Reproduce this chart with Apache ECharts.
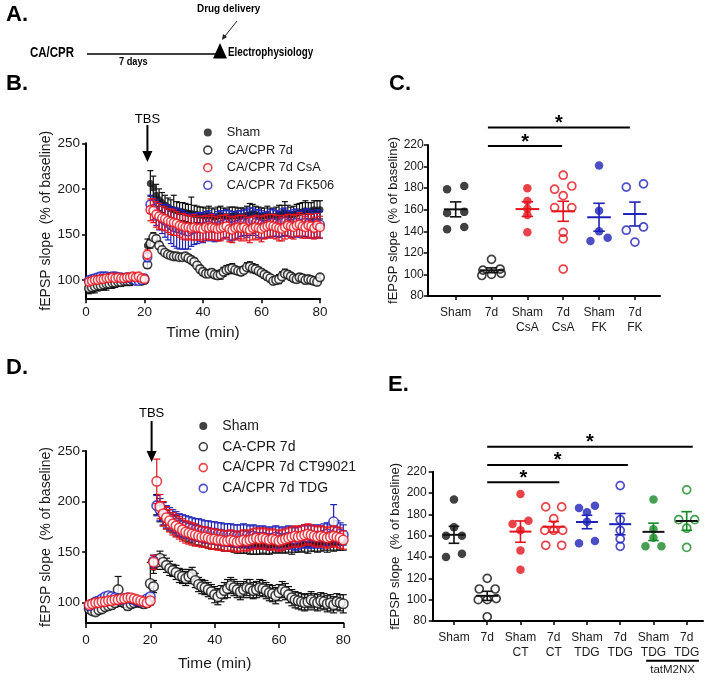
<!DOCTYPE html>
<html><head><meta charset="utf-8">
<script src="https://cdn.jsdelivr.net/npm/echarts@6/dist/echarts.min.js"></script>
<style>html,body{margin:0;padding:0;background:#fff}#c{width:719px;height:680px}</style>
</head><body><div id="c"></div>
<script>
// ---------- time course data (panels B and D) ----------
const minutes = [1,2,3,4,5,6,7,8,9,10,11,12,13,14,15,16,17,18,19,20,
21,22,23,24,25,26,27,28,29,30,31,32,33,34,35,36,37,38,39,40,
41,42,43,44,45,46,47,48,49,50,51,52,53,54,55,56,57,58,59,60,
61,62,63,64,65,66,67,68,69,70,71,72,73,74,75,76,77,78,79,80];
const timeTicks = [0,20,40,60,80];
const slopeTicks = [100,150,200,250];

const bSham = [89,90,91,92,93,93,94,95,95,96,97,97,98,98,99,99,100,100,100,101,
138,206,201,193,188,185,182,180,178,177,176,175,175,174,173,173,172,172,171,171,
170,171,170,169,170,171,170,169,170,170,171,170,169,170,171,172,173,172,171,170,
170,171,170,169,170,172,173,174,172,171,172,173,174,175,176,175,176,177,176,177];
const bShamSem = [4,4,5,4,4,4,5,4,4,4,4,4,4,4,5,4,4,4,4,4,
7,14,13,12,12,11,11,10,10,16,10,10,10,10,10,18,10,9,9,9,
9,10,9,9,10,10,9,9,10,10,9,9,10,9,10,12,10,9,9,9,
9,10,9,9,10,10,9,12,10,9,9,10,10,10,11,10,9,10,11,10];
const bCpr = [91,92,93,94,94,95,96,96,97,97,98,98,99,99,99,100,100,100,99,100,
117,140,147,145,138,133,130,128,127,126,126,125,125,126,124,122,120,116,112,109,
107,107,108,106,105,106,109,111,112,113,111,110,109,111,114,115,113,112,110,108,
106,104,102,99,100,101,104,107,106,104,102,101,103,102,100,101,100,99,98,103];
const bCprSem = [3,3,3,3,3,3,3,3,3,3,3,3,3,3,3,3,3,3,3,3,
4,5,5,4,4,4,3,3,3,3,3,3,3,3,4,4,4,4,4,4,
4,4,4,4,4,5,5,5,5,5,4,4,4,4,5,5,5,5,4,4,
4,4,4,4,4,5,5,5,4,4,4,4,4,4,4,4,4,4,4,3];
const bCsa = [98,99,100,100,101,101,102,102,103,102,103,102,102,103,103,104,103,104,102,101,
128,177,176,172,170,168,167,165,164,163,162,160,159,158,158,157,158,157,157,156,
158,157,158,157,156,157,158,159,156,155,157,158,157,158,156,155,157,158,157,156,
158,159,160,159,158,157,156,158,160,159,158,160,161,159,158,160,159,157,160,158];
const bCsaSem = [3,3,3,3,3,3,3,3,3,3,3,3,3,3,3,3,3,3,3,3,
5,12,13,14,14,13,13,13,14,14,13,13,14,14,13,13,14,13,13,14,
13,13,14,13,13,14,13,13,14,14,13,13,14,13,13,14,13,13,13,14,
13,13,12,13,13,14,13,13,12,13,13,12,13,13,12,13,13,12,13,12];
const bFk = [100,101,102,103,104,104,104,103,104,104,103,103,102,103,102,101,99,99,100,102,
125,183,178,174,170,167,165,163,160,158,157,156,155,154,153,155,156,157,158,157,
159,160,158,157,159,160,161,162,160,159,160,161,162,163,162,164,165,163,162,161,
160,161,162,163,162,161,163,164,162,161,162,163,161,162,163,162,161,160,162,161];
const bFkSem = [3,3,3,3,3,3,3,3,3,3,3,3,3,3,3,3,3,3,3,3,
5,10,12,14,15,16,18,19,20,21,22,22,21,20,19,18,17,17,16,16,
16,16,15,15,16,16,15,15,16,16,15,15,14,14,15,15,14,14,15,15,
14,14,15,15,14,14,15,15,14,14,15,15,14,14,15,16,15,14,15,15];

const dSham = [95,94,93,95,96,97,98,99,99,100,100,101,100,99,100,101,100,99,100,101,
135,197,190,185,182,180,178,176,174,172,170,169,168,167,166,165,164,163,162,162,
161,160,160,159,159,158,158,157,157,157,156,157,156,156,157,156,157,157,158,157,
158,157,158,157,158,158,159,158,158,159,159,158,159,160,159,160,159,160,160,160];
const dShamSem = [3,3,3,3,3,3,3,3,3,3,3,3,3,3,3,3,3,3,3,3,
6,10,10,9,9,9,9,10,9,9,9,9,9,10,9,9,9,9,9,9,
8,8,9,8,8,8,9,8,8,8,8,9,8,8,8,8,9,8,8,8,
8,8,8,9,8,8,8,8,9,8,8,8,8,8,9,8,8,8,8,8];
const dCpr = [94,92,91,93,94,96,97,98,100,113,101,100,97,99,100,101,100,99,100,119,
116,140,144,140,137,134,132,130,127,126,124,126,128,122,118,116,115,113,111,108,
106,109,112,114,117,115,113,111,113,115,114,112,113,115,114,112,110,109,107,110,
113,111,108,105,103,102,101,100,101,103,101,100,102,101,99,100,98,101,100,99];
const dCprSem = [3,3,3,3,3,3,3,4,4,13,4,4,4,4,4,4,4,4,4,21,
6,7,7,7,7,7,6,7,7,7,7,7,7,7,7,7,7,7,7,8,
8,8,8,9,8,8,8,8,8,8,9,8,8,8,8,8,8,8,8,8,
8,8,8,8,8,8,8,8,8,8,8,8,8,8,8,8,8,8,8,9];
const dCt = [98,99,100,100,101,101,102,102,103,103,104,104,105,105,104,103,102,101,100,102,
140,220,195,188,184,181,178,176,174,172,170,169,168,167,166,165,165,164,163,163,
162,162,161,161,162,161,160,161,162,161,162,163,164,163,164,163,162,163,162,161,
162,163,164,165,166,165,166,167,168,167,166,165,166,165,164,165,166,165,164,162];
const dCtSem = [3,3,3,3,3,3,3,3,3,3,3,3,3,3,3,3,3,3,3,3,
7,22,12,12,11,11,11,11,11,11,11,11,11,11,10,10,10,10,10,10,
10,10,10,10,10,10,10,10,10,10,10,10,10,10,10,10,10,10,10,10,
10,10,10,10,10,10,10,10,10,10,10,10,10,10,10,10,10,10,10,9];
const dTdg = [97,99,101,102,104,106,107,106,105,104,103,104,105,104,103,102,101,102,104,106,
141,196,192,188,185,183,181,179,177,176,175,174,173,172,172,171,170,170,169,169,
168,168,167,167,167,166,166,166,167,166,165,166,165,164,165,164,163,164,165,164,
163,164,165,164,163,164,165,166,165,166,165,166,165,167,168,166,180,170,168,167];
const dTdgSem = [3,3,3,3,3,3,3,3,3,3,3,3,3,3,3,3,3,3,3,3,
6,10,11,11,11,11,11,11,11,11,11,11,11,11,11,11,11,11,11,11,
11,11,11,11,11,11,11,11,11,11,11,11,11,11,11,11,11,11,11,11,
11,11,11,11,11,11,11,11,11,11,11,11,11,11,11,11,17,11,11,10];

const bNames = ['Sham','CA/CPR 7d','CA/CPR 7d CsA','CA/CPR 7d FK506'];
const dNames = ['Sham','CA-CPR 7d','CA/CPR 7d CT99021','CA/CPR 7d TDG'];

// ---------- scatter data (panels C and E) ----------
const cGroups = ['Sham','7d','Sham\nCsA','7d\nCsA','Sham\nFK','7d\nFK'];
const cSham = [179,182,157,158,142,144];
const c7d = [114,105,104,101,100,99];
const cShamCsA = [180,168,161,155,139];
const c7dCsA = [192,179,182,173,162,162,139,133,105];
const cShamFK = [201,159,140,131,134];
const c7dFK = [181,184,141,144,130];

const eGroups = ['Sham','7d','Sham\nCT','7d\nCT','Sham\nTDG','7d\nTDG','Sham\nTDG','7d\nTDG'];
const eSham = [194,168,160,160,143,140];
const e7d = [120,110,110,101,100,100,84];
const eShamCT = [199,174,171,165,146,128];
const e7dCT = [187,187,176,165,165,165,151,151];
const eShamTDG = [188,186,182,173,155,153];
const e7dTDG = [207,175,165,157,150];
const eShamTat = [194,166,158,150,150];
const e7dTat = [203,175,175,167,149];

// ---------- styles ----------
const FONT = '"Liberation Sans", Arial, Helvetica, sans-serif';
const BLACK = '#111', RED = '#e3141d', BLUE = '#1f22b8', GREEN = '#168a26';
const TXT = '#1a1a1a';

const chart = echarts.init(document.getElementById('c'));

function tcErr(ax, means, sems, color, cap, z) {
  return {type:'custom', name: 'err'+z, xAxisIndex:ax, yAxisIndex:ax, z, silent:true,
    data: minutes.map((t,i)=>[t, means[i], sems[i]]),
    renderItem(params, api) {
      const t = api.value(0), m = api.value(1), s = api.value(2);
      const a = api.coord([t, m+s]), b = api.coord([t, m-s]);
      const st = {stroke: color, lineWidth: 1.2};
      return {type:'group', children:[
        {type:'line', shape:{x1:a[0],y1:a[1],x2:b[0],y2:b[1]}, style:st},
        {type:'line', shape:{x1:a[0]-cap,y1:a[1],x2:a[0]+cap,y2:a[1]}, style:st},
        {type:'line', shape:{x1:b[0]-cap,y1:b[1],x2:b[0]+cap,y2:b[1]}, style:st}]};
    }};
}
function tcPts(ax, name, means, color, filled, size, z) {
  return {type:'scatter', name, xAxisIndex:ax, yAxisIndex:ax, z, silent:true,
    data: minutes.map((t,i)=>[t, means[i]]), symbol:'circle', symbolSize: size,
    itemStyle: filled ? {color: color} : {color:'#fff', borderColor: color, borderWidth: 1.6}};
}

function swarm(vals) {
  const idx = vals.map((v,i)=>i).sort((a,b)=>vals[b]-vals[a]);
  const off = new Array(vals.length).fill(0);
  let k = 0;
  while (k < idx.length) {
    const row = [idx[k]]; let j = k+1;
    while (j < idx.length && vals[idx[k]] - vals[idx[j]] <= 3.5) { row.push(idx[j]); j++; }
    row.sort((a,b)=>vals[a]-vals[b]);
    const step = row.length === 2 ? 0.48 : 0.27;
    row.forEach((ii,r)=>{ off[ii] = (r-(row.length-1)/2)*step; });
    k = j;
  }
  return off;
}
function groupPts(ax, pos, vals, color, filled, z) {
  const off = swarm(vals);
  return {type:'scatter', xAxisIndex:ax, yAxisIndex:ax, z, silent:true,
    data: vals.map((v,i)=>[pos+off[i], v]), symbol:'circle', symbolSize: filled ? 8.5 : 8,
    itemStyle: filled ? {color} : {color:'rgba(255,255,255,0)', borderColor: color, borderWidth: 1.7}};
}
function groupStats(ax, groups, colors, meanColors, z) {
  const data = groups.map((vals,g)=>{
    const n = vals.length, m = vals.reduce((a,b)=>a+b,0)/n;
    const sd = Math.sqrt(vals.reduce((a,b)=>a+(b-m)*(b-m),0)/(n-1));
    return [g+1, m, sd/Math.sqrt(n), g];
  });
  return {type:'custom', xAxisIndex:ax, yAxisIndex:ax, z, silent:true, data,
    renderItem(params, api) {
      const x = api.value(0), m = api.value(1), s = api.value(2), g = api.value(3);
      const L = api.coord([x-0.33, m]), R = api.coord([x+0.33, m]);
      const a = api.coord([x, m+s]), b = api.coord([x, m-s]);
      const cw = api.size([0.16, 0])[0];
      const es = {stroke: colors[g], lineWidth: 1.6};
      return {type:'group', children:[
        {type:'line', shape:{x1:a[0],y1:a[1],x2:b[0],y2:b[1]}, style:es},
        {type:'line', shape:{x1:a[0]-cw,y1:a[1],x2:a[0]+cw,y2:a[1]}, style:es},
        {type:'line', shape:{x1:b[0]-cw,y1:b[1],x2:b[0]+cw,y2:b[1]}, style:es},
        {type:'line', shape:{x1:L[0],y1:L[1],x2:R[0],y2:R[1]}, style:{stroke: meanColors[g], lineWidth: 2}}]};
    }};
}

const axLine = {lineStyle:{color:'#000', width:2}};
function tAxis(grid, gap, lab) {
  return {type:'value', gridIndex:grid, min:0, max:80, interval:20, name:'Time (min)', nameLocation:'middle', nameGap:gap,
    nameTextStyle:{fontFamily:FONT, fontSize:15.5, color:TXT},
    axisLine:axLine, axisTick:{length:5, customValues:timeTicks, lineStyle:{color:'#000', width:1.5}},
    axisLabel:{fontFamily:FONT, fontSize:13.5, color:TXT, margin:lab, customValues:timeTicks}, splitLine:{show:false}};
}
function sAxis(grid, gap) {
  return {type:'value', gridIndex:grid, min:80, max:250, name:'fEPSP slope  (% of baseline)', nameLocation:'middle', nameGap:gap,
    nameTextStyle:{fontFamily:FONT, fontSize:14, color:TXT},
    axisLine:axLine, axisTick:{length:4, customValues:slopeTicks, lineStyle:{color:'#000', width:1.5}},
    axisLabel:{fontFamily:FONT, fontSize:13.5, color:TXT, margin:6, customValues:slopeTicks}, splitLine:{show:false}};
}
function gAxis(grid, groups, min, max) {
  const pos = groups.map((g,i)=>i+1);
  return {type:'value', gridIndex:grid, min, max,
    axisLine:axLine, axisTick:{length:4, customValues:pos, lineStyle:{color:'#000', width:1.5}},
    axisLabel:{fontFamily:FONT, fontSize:12, color:TXT, margin:9, lineHeight:15, customValues:pos,
      formatter:(v)=>groups[Math.round(v)-1]}, splitLine:{show:false}};
}
function vAxis(grid, gap, margin) {
  return {type:'value', gridIndex:grid, min:80, max:220, interval:20, name:'fEPSP slope  (% of baseline)', nameLocation:'middle', nameGap:gap,
    nameTextStyle:{fontFamily:FONT, fontSize:13, color:TXT},
    axisLine:axLine, axisTick:{length:4, lineStyle:{color:'#000', width:1.5}},
    axisLabel:{fontFamily:FONT, fontSize:12, color:TXT, margin}, splitLine:{show:false}};
}

const cVals = [cSham, c7d, cShamCsA, c7dCsA, cShamFK, c7dFK];
const cCol = [BLACK, BLACK, RED, RED, BLUE, BLUE];
const cFill = [true, false, true, false, true, false];
const eVals = [eSham, e7d, eShamCT, e7dCT, eShamTDG, e7dTDG, eShamTat, e7dTat];
const eCol = [BLACK, BLACK, RED, RED, BLUE, BLUE, GREEN, GREEN];
const eMeanCol = [BLACK, BLACK, RED, RED, BLUE, BLUE, BLACK, BLACK];
const eFill = [true, false, true, false, true, false, true, false];

const series = [
  tcErr(0, bSham, bShamSem, BLACK, 3, 1), tcPts(0, bNames[0], bSham, BLACK, true, 7, 2),
  tcErr(0, bCpr, bCprSem, BLACK, 3, 3), tcPts(0, bNames[1], bCpr, BLACK, false, 8.5, 4),
  tcErr(0, bFk, bFkSem, BLUE, 3, 5), tcPts(0, bNames[3], bFk, BLUE, false, 8.5, 6),
  tcErr(0, bCsa, bCsaSem, RED, 3, 7), tcPts(0, bNames[2], bCsa, RED, false, 8.5, 8),
  tcErr(2, dSham, dShamSem, BLACK, 3.5, 1), tcPts(2, dNames[0], dSham, BLACK, true, 7.5, 2),
  tcErr(2, dCpr, dCprSem, BLACK, 3.5, 3), tcPts(2, dNames[1], dCpr, BLACK, false, 9.5, 4),
  tcErr(2, dTdg, dTdgSem, BLUE, 3.5, 5), tcPts(2, dNames[3], dTdg, BLUE, false, 9.5, 6),
  tcErr(2, dCt, dCtSem, RED, 3.5, 7), tcPts(2, dNames[2], dCt, RED, false, 9.5, 8),
  groupStats(1, cVals, cCol, cCol, 5),
  groupStats(3, eVals, eCol, eMeanCol, 5)
];
cVals.forEach((v,g)=>series.push(groupPts(1, g+1, v, cCol[g], cFill[g], 4)));
eVals.forEach((v,g)=>series.push(groupPts(3, g+1, v, eCol[g], eFill[g], 4)));

function legendItems(names, colors, fills) {
  return names.map((n,i)=>({name:n, icon:'circle',
    itemStyle: fills[i] ? {color: colors[i]} : {color:'#fff', borderColor: colors[i], borderWidth:1.6}}));
}

const option = {
  animation:false,
  textStyle:{fontFamily:FONT},
  grid:[
    {left:86, top:143.3, width:234, height:155},
    {left:427.7, top:145, width:232.3, height:151},
    {left:86, top:451, width:257.3, height:172},
    {left:432.7, top:471.7, width:270.3, height:149.3}
  ],
  xAxis:[tAxis(0, 26, 7), gAxis(1, cGroups, 0.22, 6.7), tAxis(2, 33, 10), gAxis(3, eGroups, 0.36, 8.49)],
  yAxis:[sAxis(0, 32), vAxis(1, 26, 4), sAxis(2, 32), vAxis(3, 31, 6)],
  legend:[
    {left:198, top:121, orient:'vertical', itemWidth:28, itemHeight:8, itemGap:4.6, selectedMode:false,
     textStyle:{fontFamily:FONT, fontSize:12.8, color:TXT},
     data: legendItems(bNames, [BLACK,BLACK,RED,BLUE], [true,false,false,false])},
    {left:193.5, top:414, orient:'vertical', itemWidth:28, itemHeight:8, itemGap:6.8, selectedMode:false,
     textStyle:{fontFamily:FONT, fontSize:14, color:TXT},
     data: legendItems(dNames, [BLACK,BLACK,RED,BLUE], [true,false,false,false])}
  ],
  series
};
chart.setOption(option);

// ---------- annotations ----------
function txt(x, y, s, size, opts) {
  return Object.assign({type:'text', x, y, style:Object.assign({text:s, fontFamily:FONT, fontSize:size, fill:'#000',
    textAlign:'left', textVerticalAlign:'middle'}, (opts||{}).style||{})}, (opts||{}).el||{});
}
const g = [];
g.push(txt(6, 15, 'A.', 22, {style:{fontWeight:'bold'}}));
g.push(txt(6, 84, 'B.', 22, {style:{fontWeight:'bold'}}));
g.push(txt(389, 84, 'C.', 22, {style:{fontWeight:'bold'}}));
g.push(txt(6, 368, 'D.', 22, {style:{fontWeight:'bold'}}));
g.push(txt(388, 385, 'E.', 22, {style:{fontWeight:'bold'}}));
// timeline A
g.push(txt(30, 53, 'CA/CPR', 14, {style:{fontWeight:'bold'}, el:{scaleX:0.82}}));
g.push({type:'line', shape:{x1:87, y1:54, x2:216, y2:54}, style:{stroke:'#000', lineWidth:1.5}});
g.push({type:'polygon', shape:{points:[[213,58.5],[220,43],[227,58.5]]}, style:{fill:'#000'}});
g.push(txt(228, 53, 'Electrophysiology', 12, {style:{fontWeight:'bold'}, el:{scaleX:0.82}}));
g.push(txt(197, 9, 'Drug delivery', 11, {style:{fontWeight:'bold'}, el:{scaleX:0.9}}));
g.push({type:'line', shape:{x1:237, y1:21, x2:225, y2:36}, style:{stroke:'#222', lineWidth:1}});
g.push({type:'polygon', shape:{points:[[222,40],[223,34],[227,37]]}, style:{fill:'#222'}});
g.push(txt(119, 62, '7 days', 10, {style:{fontWeight:'bold'}, el:{scaleX:0.92}}));

// TBS arrows
function tbs(grid, t, ty, y1, y2) {
  const x = chart.convertToPixel({gridIndex:grid}, [t, 100])[0];
  g.push(txt(x, ty, 'TBS', 13, {style:{textAlign:'center'}}));
  g.push({type:'line', shape:{x1:x, y1:y1, x2:x, y2:y2-8}, style:{stroke:'#000', lineWidth:2}});
  g.push({type:'polygon', shape:{points:[[x-5,y2-11],[x+5,y2-11],[x,y2]]}, style:{fill:'#000'}});
}
tbs(0, 21, 119, 125, 162);
tbs(2, 20.4, 413, 421, 462);

// significance bars
function sig(grid, x1, x2, yv) {
  const p1 = chart.convertToPixel({gridIndex:grid}, [x1, yv]);
  const p2 = chart.convertToPixel({gridIndex:grid}, [x2, yv]);
  g.push({type:'line', shape:{x1:p1[0], y1:p1[1], x2:p2[0], y2:p2[1]}, style:{stroke:'#000', lineWidth:2}});
  g.push(txt((p1[0]+p2[0])/2, p1[1]-4, '*', 20, {style:{textAlign:'center', fontWeight:'bold'}}));
}
sig(1, 1.9, 5.86, 236.3);
sig(1, 1.9, 3.97, 219);
sig(3, 2.0, 8.18, 243.4);
sig(3, 2.0, 6.23, 226.3);
sig(3, 2.0, 4.17, 210.1);
// tatM2NX bracket
(function(){
  const a = chart.convertToPixel({gridIndex:3}, [6.78, 80]);
  const b = chart.convertToPixel({gridIndex:3}, [8.37, 80]);
  const y = a[1] + 39.7;
  g.push({type:'line', shape:{x1:a[0], y1:y, x2:b[0], y2:y}, style:{stroke:'#000', lineWidth:2}});
  g.push(txt((a[0]+b[0])/2, y + 9.5, 'tatM2NX', 11.5, {style:{textAlign:'center', fill:TXT}}));
})();

chart.setOption({graphic: g});
</script></body></html>
